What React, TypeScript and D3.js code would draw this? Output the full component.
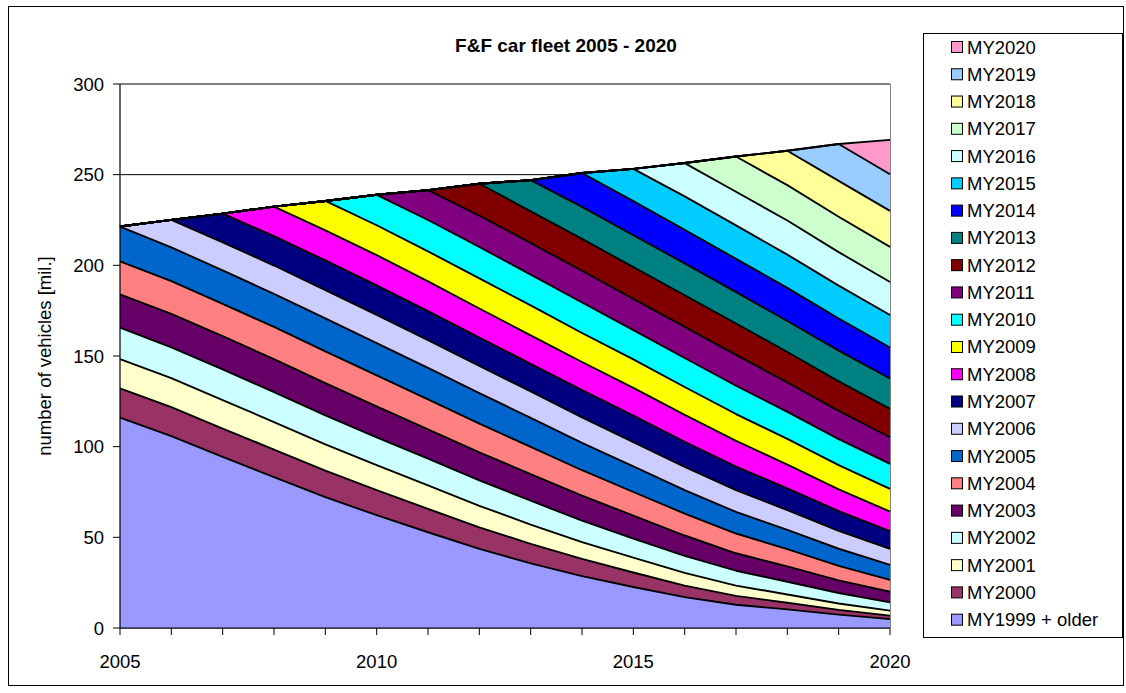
import React from "react";
import * as d3 from "d3";

const years = [2005, 2006, 2007, 2008, 2009, 2010, 2011, 2012, 2013, 2014, 2015, 2016, 2017, 2018, 2019, 2020];

const seriesNames = [
  "MY1999 + older", "MY2000", "MY2001", "MY2002", "MY2003", "MY2004", "MY2005", "MY2006",
  "MY2007", "MY2008", "MY2009", "MY2010", "MY2011", "MY2012", "MY2013", "MY2014",
  "MY2015", "MY2016", "MY2017", "MY2018", "MY2019", "MY2020",
];

const MY1999_older = [116.0, 105.8, 94.4, 83.2, 72.2, 62.2, 52.8, 43.6, 35.6, 28.6, 22.6, 17.0, 12.8, 10.3, 7.4, 4.9];
const MY2000 = [16.2, 16.0, 15.6, 15.2, 14.6, 13.8, 12.9, 11.9, 10.8, 9.5, 8.0, 6.4, 4.9, 3.6, 2.6, 1.9];
const MY2001 = [16.1, 16.0, 15.7, 15.2, 14.5, 13.8, 13.0, 11.9, 10.6, 9.3, 8.2, 7.0, 5.7, 4.6, 3.5, 2.8];
const MY2002 = [17.3, 17.0, 16.9, 16.5, 15.9, 15.3, 14.7, 14.0, 13.2, 11.8, 10.5, 9.4, 8.2, 7.0, 5.8, 4.5];
const MY2003 = [18.4, 18.4, 18.3, 18.2, 17.9, 17.1, 16.2, 15.5, 14.7, 13.8, 12.7, 11.2, 9.6, 8.5, 7.0, 5.9];
const MY2004 = [18.2, 18.1, 17.9, 17.7, 17.5, 17.1, 16.5, 15.8, 15.0, 14.0, 13.0, 12.1, 10.9, 9.5, 8.0, 6.5];
const MY2005 = [19.2, 18.6, 18.4, 18.3, 18.1, 17.8, 17.3, 16.8, 16.0, 15.1, 14.1, 12.9, 11.9, 10.6, 9.4, 8.3];
const MY2006 = [0, 15.2, 15.5, 15.6, 15.6, 15.6, 15.3, 15.0, 14.6, 14.1, 13.4, 12.8, 12.0, 10.9, 9.9, 8.8];
const MY2007 = [0, 0, 15.8, 16.2, 16.4, 16.3, 16.1, 15.7, 15.2, 15.0, 14.6, 13.9, 13.0, 12.0, 10.9, 9.8];
const MY2008 = [0, 0, 0, 16.3, 16.6, 16.6, 16.4, 16.0, 15.7, 15.5, 15.3, 14.8, 14.2, 13.1, 11.9, 10.8];
const MY2009 = [0, 0, 0, 0, 16.2, 16.5, 16.5, 16.6, 16.5, 16.0, 15.7, 15.4, 14.8, 14.2, 13.4, 12.5];
const MY2010 = [0, 0, 0, 0, 0, 16.8, 17.3, 17.3, 17.0, 16.8, 16.2, 16.0, 15.6, 14.9, 14.4, 13.8];
const MY2011 = [0, 0, 0, 0, 0, 0, 16.5, 17.3, 17.4, 17.5, 17.2, 17.2, 17.0, 16.2, 15.5, 14.7];
const MY2012 = [0, 0, 0, 0, 0, 0, 0, 17.6, 17.5, 17.6, 17.5, 17.4, 17.3, 16.8, 16.3, 15.6];
const MY2013 = [0, 0, 0, 0, 0, 0, 0, 0, 17.2, 17.6, 17.6, 17.6, 17.3, 17.1, 17.0, 16.8];
const MY2014 = [0, 0, 0, 0, 0, 0, 0, 0, 0, 18.7, 18.8, 18.5, 18.4, 18.3, 17.7, 17.1];
const MY2015 = [0, 0, 0, 0, 0, 0, 0, 0, 0, 0, 17.8, 18.4, 18.4, 18.3, 18.1, 17.9];
const MY2016 = [0, 0, 0, 0, 0, 0, 0, 0, 0, 0, 0, 18.4, 18.6, 18.8, 18.5, 18.2];
const MY2017 = [0, 0, 0, 0, 0, 0, 0, 0, 0, 0, 0, 0, 19.4, 19.5, 19.5, 19.4];
const MY2018 = [0, 0, 0, 0, 0, 0, 0, 0, 0, 0, 0, 0, 0, 19.0, 19.8, 19.8];
const MY2019 = [0, 0, 0, 0, 0, 0, 0, 0, 0, 0, 0, 0, 0, 0, 20.3, 20.2];
const MY2020 = [0, 0, 0, 0, 0, 0, 0, 0, 0, 0, 0, 0, 0, 0, 0, 19.0];

const seriesValues = [
  MY1999_older, MY2000, MY2001, MY2002, MY2003, MY2004, MY2005, MY2006, MY2007, MY2008, MY2009,
  MY2010, MY2011, MY2012, MY2013, MY2014, MY2015, MY2016, MY2017, MY2018, MY2019, MY2020,
];

const seriesColors = [
  "#9999FF", "#993366", "#FFFFCC", "#CCFFFF", "#660066", "#FF8080", "#0066CC", "#CCCCFF",
  "#000080", "#FF00FF", "#FFFF00", "#00FFFF", "#800080", "#800000", "#008080", "#0000FF",
  "#00CCFF", "#CCFFFF", "#CCFFCC", "#FFFF99", "#99CCFF", "#FF99CC",
];

const yTicks = [0, 50, 100, 150, 200, 250, 300];
const xLabelYears = [2005, 2010, 2015, 2020];
const titleText = "F&F car fleet 2005 - 2020";
const yAxisTitle = "number of vehicles [mil.]";

const FONT = "'Liberation Sans', Arial, sans-serif";

export default function App() {
  const W = 1126;
  const H = 693;
  const plot = { left: 120, right: 890, top: 84, bottom: 628 };

  const x = d3.scaleLinear().domain([2005, 2020]).range([plot.left, plot.right]);
  const y = d3.scaleLinear().domain([0, 300]).range([plot.bottom, plot.top]);

  const rows = years.map((yr, i) => {
    const r: any = { year: yr };
    seriesNames.forEach((n, k) => (r[n] = seriesValues[k][i]));
    return r;
  });
  const stacked = d3.stack<any>().keys(seriesNames)(rows);

  const area = d3
    .area<any>()
    .x((d) => x(d.data.year))
    .y0((d) => y(d[0]))
    .y1((d) => y(d[1]));
  const topLine = d3
    .line<any>()
    .x((d) => x(d.data.year))
    .y((d) => y(d[1]));

  const legend = { x: 923, y: 33, w: 199, h: 604, rowH: 27.27, firstY: 41 };
  const legendOrder = seriesNames.map((n, i) => i).reverse();

  return (
    <svg
      width={W}
      height={H}
      style={{ position: "absolute", left: 0, top: 0, background: "#fff" }}
      fontFamily={FONT}
    >
      <rect x={0} y={0} width={W} height={H} fill="#fff" />
      <rect x={8.5} y={6.5} width={1115} height={679} fill="none" stroke="#000" strokeWidth={1} />

      {/* gridlines */}
      {yTicks.map((t) => (
        <line key={"g" + t} x1={plot.left} x2={plot.right} y1={y(t)} y2={y(t)} stroke="#000" strokeWidth={1} />
      ))}
      <line x1={plot.right + 0.5} x2={plot.right + 0.5} y1={plot.top} y2={plot.bottom} stroke="#808080" strokeWidth={1} />

      {/* areas */}
      {stacked.map((s, i) => (
        <path key={"a" + i} d={area(s) || ""} fill={seriesColors[i]} stroke="none" />
      ))}
      {stacked.map((s, i) => (
        <path key={"l" + i} d={topLine(s) || ""} fill="none" stroke="#000" strokeWidth={1.9} strokeLinejoin="round" />
      ))}

      {/* axes */}
      <line x1={plot.left} x2={plot.left} y1={plot.top} y2={plot.bottom} stroke="#000" strokeWidth={1.2} />
      <line x1={plot.left} x2={plot.right} y1={plot.bottom} y2={plot.bottom} stroke="#000" strokeWidth={1.2} />
      {yTicks.map((t) => (
        <g key={"yt" + t}>
          <line x1={plot.left - 7} x2={plot.left} y1={y(t)} y2={y(t)} stroke="#000" strokeWidth={1} />
          <text x={104} y={y(t) + 6.5} textAnchor="end" fontSize={18.5} fill="#000">
            {t}
          </text>
        </g>
      ))}
      {years.map((yr) => (
        <line key={"xt" + yr} x1={x(yr)} x2={x(yr)} y1={plot.bottom} y2={plot.bottom + 7} stroke="#000" strokeWidth={1} />
      ))}
      {xLabelYears.map((yr) => (
        <text key={"xl" + yr} x={x(yr)} y={668} textAnchor="middle" fontSize={18.5} fill="#000">
          {yr}
        </text>
      ))}

      <text x={51} y={356} transform="rotate(-90 51 356)" textAnchor="middle" fontSize={18.5} fill="#000">
        {yAxisTitle}
      </text>
      <text x={566} y={52} textAnchor="middle" fontSize={19} fontWeight="bold" fill="#000">
        {titleText}
      </text>

      {/* legend */}
      <rect x={legend.x + 0.5} y={legend.y + 0.5} width={legend.w} height={legend.h} fill="#fff" stroke="#000" strokeWidth={1} />
      {legendOrder.map((si, k) => {
        const yy = legend.firstY + k * legend.rowH;
        return (
          <g key={"lg" + si}>
            <rect x={951.5} y={yy + 0.5} width={11} height={11} fill={seriesColors[si]} stroke="#000" strokeWidth={1} />
            <text x={967} y={yy + 12.5} fontSize={18.5} fill="#000">
              {seriesNames[si]}
            </text>
          </g>
        );
      })}
    </svg>
  );
}
